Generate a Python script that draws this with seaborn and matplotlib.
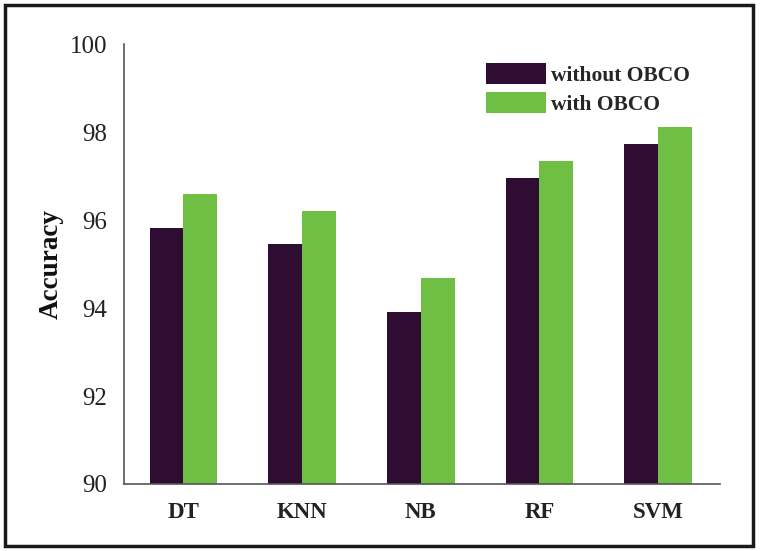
import pandas as pd
import matplotlib
matplotlib.use('Agg')
import matplotlib.pyplot as plt
from matplotlib.patches import Rectangle
import seaborn as sns

# values
models = ['DT', 'KNN', 'NB', 'RF', 'SVM']
without_obco = [95.82, 95.45, 93.90, 96.95, 97.73]
with_obco = [96.59, 96.20, 94.68, 97.34, 98.11]
series_names = ['without OBCO', 'with OBCO']
yticks = [90, 92, 94, 96, 98, 100]

dark = '#2f0c31'
green = '#6fbf44'


def main():
    df = pd.DataFrame({
        'model': models * 2,
        'acc': without_obco + with_obco,
        'setting': [series_names[0]] * len(models) + [series_names[1]] * len(models),
    })

    sns.set_style('white')
    plt.rcParams['font.family'] = ['Liberation Serif', 'DejaVu Serif']

    fig = plt.figure(figsize=(7.61, 5.51), dpi=100)
    ax = fig.add_axes([0.163, 0.1216, 0.783, 0.7984])

    sns.barplot(data=df, x='model', y='acc', hue='setting', order=models,
                hue_order=series_names, palette=[dark, green], width=0.57,
                saturation=1, linewidth=0, ax=ax)

    ax.set_xlim(-0.5, 4.52)
    ax.set_ylim(90, 100)
    ax.set_yticks(yticks)
    ax.set_yticklabels([str(t) for t in yticks], fontsize=18, color='#222')
    ax.tick_params(axis='y', direction='in', length=4, width=1, color='#666', pad=12)
    ax.tick_params(axis='x', length=0, pad=13)
    for lab in ax.get_xticklabels():
        lab.set_fontsize(16.5)
        lab.set_fontweight('bold')
        lab.set_color('#222')

    ax.set_xlabel('')
    ax.set_ylabel('Accuracy', fontsize=19.5, fontweight='bold', color='#111')
    ax.yaxis.set_label_coords(-0.102, 0.5)

    for side in ['top', 'right']:
        ax.spines[side].set_visible(False)
    for side in ['left', 'bottom']:
        ax.spines[side].set_color('#555')
        ax.spines[side].set_linewidth(1.2)

    handles, labels = ax.get_legend_handles_labels()
    ax.legend(handles, labels, loc='upper left', bbox_to_anchor=(486 / 761, 1 - 63 / 551),
              bbox_transform=fig.transFigure, frameon=False,
              prop={'family': 'Liberation Serif', 'weight': 'bold', 'size': 15.5},
              handlelength=2.8, handleheight=1.15, labelspacing=0.28,
              handletextpad=0.2, borderpad=0, borderaxespad=0)

    # outer black frame around the whole picture
    fig.add_artist(Rectangle((5 / 761, 1 - 546 / 551), 748 / 761, 541 / 551,
                             transform=fig.transFigure, fill=False,
                             edgecolor='#1a1a1a', linewidth=2.5))

    fig.savefig('out.png', dpi=100)


if __name__ == '__main__':
    main()
